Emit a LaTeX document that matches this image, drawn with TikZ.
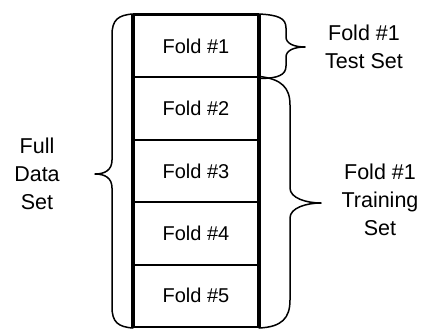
\documentclass[tikz,border=0pt]{standalone}
\usepackage{fontspec}
\setmainfont{Liberation Sans}
\begin{document}
\begin{tikzpicture}[x=1pt,y=-1pt,
  foldbox/.style={draw, line width=2pt, minimum width=124pt, minimum height=62.4pt,
    inner sep=0pt, font=\fontsize{20}{24}\selectfont},
  lbl/.style={align=center, inner sep=0pt, font=\fontsize{21.5}{28}\selectfont},
  bracepath/.style={line width=1.5pt, line cap=round, line join=round}]
\useasboundingbox (0,0) rectangle (423,329);
\node[foldbox] (f1) at (196,46.2) {Fold \#1};
\node[foldbox] (f2) at (196,108.6) {Fold \#2};
\node[foldbox] (f3) at (196,171) {Fold \#3};
\node[foldbox] (f4) at (196,233.4) {Fold \#4};
\node[foldbox] (f5) at (196,295.8) {Fold \#5};
\draw[line width=4pt] (f1.north west) -- (f5.south west);
\draw[line width=3.5pt] (f1.north east) -- (f5.south east);
\draw[line width=2.5pt] (f1.north west) -- (f1.north east);
% left brace
\draw[bracepath] (f1.north west) .. controls (118,15) and (112,20) .. (112,35)
  -- (112,160) .. controls (112,170) and (105,174) .. (95,174)
  .. controls (105,174) and (112,178) .. (112,188)
  -- (112,307) .. controls (112,322) and (118,327) .. (f5.south west);
% test set brace
\draw[bracepath] (f1.north east) .. controls (278,15) and (286,18) .. (286,28)
  -- (286,37) .. controls (286,44) and (295,47) .. (305,47)
  .. controls (295,47) and (286,50) .. (286,57)
  -- (286,66) .. controls (286,75) and (278,78.6) .. (f1.south east);
% training set brace
\draw[bracepath] (f2.north east) .. controls (282,79) and (290,88) .. (290,105)
  -- (290,188) .. controls (290,198) and (306,203) .. (321,203)
  .. controls (306,203) and (290,208) .. (290,218)
  -- (290,300) .. controls (290,318) and (282,327) .. (f5.south east);
\node[lbl] (full) at (37,174) {Full\\Data\\Set};
\node[lbl] (test) at (364,47) {Fold \#1\\Test Set};
\node[lbl] (train) at (380,200) {Fold \#1\\Training\\Set};
\end{tikzpicture}
\end{document}
